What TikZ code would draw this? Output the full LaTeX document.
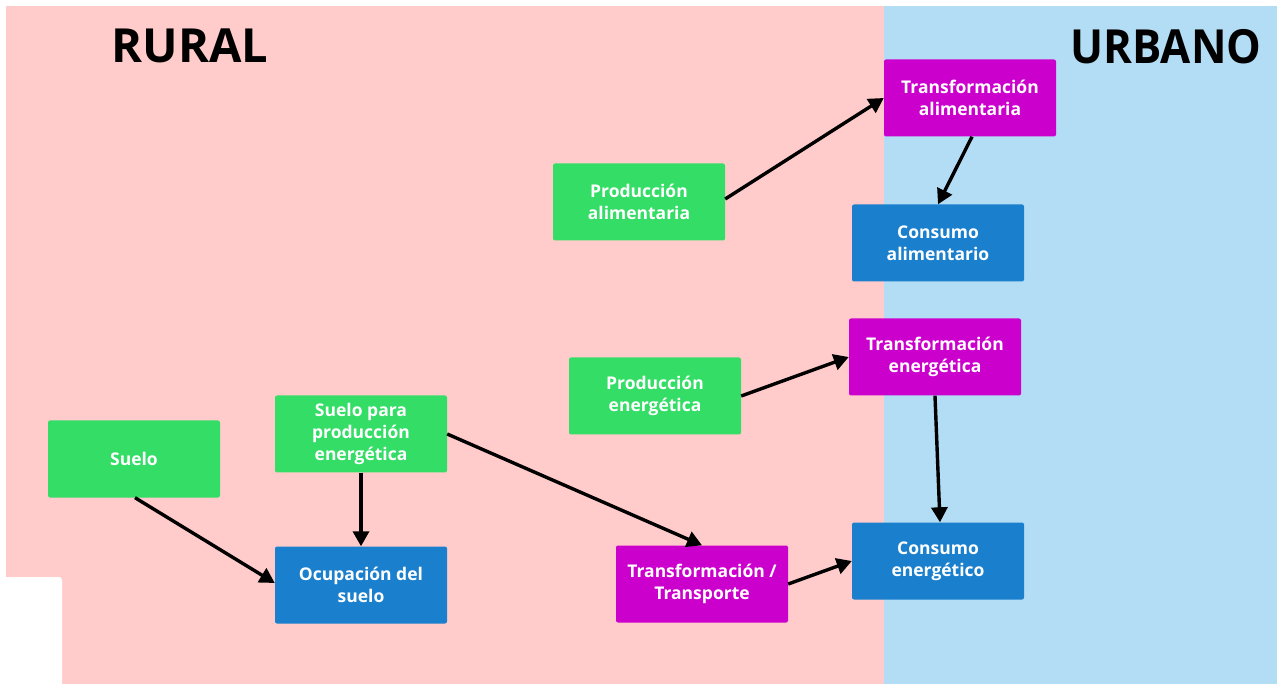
\documentclass[tikz,border=0pt]{standalone}
\usepackage{fontspec}
\setmainfont{Open Sans}
\usetikzlibrary{arrows.meta}
\definecolor{ruralbg}{HTML}{FFCCCB}
\definecolor{urbanbg}{HTML}{B3DDF5}
\definecolor{prodgreen}{HTML}{33DD66}
\definecolor{transpurple}{HTML}{CC00CC}
\definecolor{consblue}{HTML}{1A7FCC}
\tikzset{
  box/.style={rectangle, rounded corners=2pt, minimum width=172pt, minimum height=77pt,
    text=white, align=center, inner sep=2pt,
    font=\fontsize{17.5}{22}\selectfont\bfseries},
  prod/.style={box, fill=prodgreen},
  trans/.style={box, fill=transpurple},
  cons/.style={box, fill=consblue},
  flow/.style={line width=3.4pt, -{Triangle[length=15pt,width=16pt]}},
  zonetitle/.style={font=\fontsize{47}{50}\selectfont\bfseries, text=black, inner sep=0pt}
}
\begin{document}
\begin{tikzpicture}[x=1pt,y=-1pt]
  % page and the two zones
  \fill[white] (0,0) rectangle (1283,684);
  \useasboundingbox (0,0) rectangle (1283,684);
  \fill[ruralbg] (6,6) rectangle (884,684);
  \fill[urbanbg] (884,6) rectangle (1277,684);
  \fill[white, rounded corners=3pt] (-5,577) rectangle (62,690);

  \node[zonetitle] (rural) at (190,46) {RURAL};
  \node[zonetitle, xscale=0.93] (urbano) at (1166,47) {URBANO};

  % boxes
  \node[prod]  (suelo)     at (134,459) {Suelo};
  \node[prod]  (sueloener) at (361,434) {Suelo para\\producción\\energética};
  \node[cons]  (ocupacion) at (361,585) {Ocupación del\\suelo};
  \node[prod]  (prodalim)  at (639,202) {Producción\\alimentaria};
  \node[trans] (transalim) at (970,98)  {Transformación\\alimentaria};
  \node[cons]  (consalim)  at (938,243) {Consumo\\alimentario};
  \node[prod]  (prodener)  at (655,396) {Producción\\energética};
  \node[trans] (transener) at (935,357) {Transformación\\energética};
  \node[trans] (transport) at (702,584) {Transformación /\\Transporte};
  \node[cons]  (consener)  at (938,561) {Consumo\\energético};

  % flows
  \draw[flow] ([xshift=1pt]suelo.south) -- ([yshift=2pt]ocupacion.west);
  \draw[flow] (sueloener.south) -- (ocupacion.north);
  \draw[flow] (sueloener.east) -- (transport.north);
  \draw[flow] ([yshift=3pt]prodalim.east) -- (transalim.west);
  \draw[flow] ([xshift=2pt]transalim.south) -- (consalim.north);
  \draw[flow] (prodener.east) -- (transener.west);
  \draw[flow] (transener.south) -- ([xshift=2pt]consener.north);
  \draw[flow] (transport.east) -- (consener.west);
\end{tikzpicture}
\end{document}
